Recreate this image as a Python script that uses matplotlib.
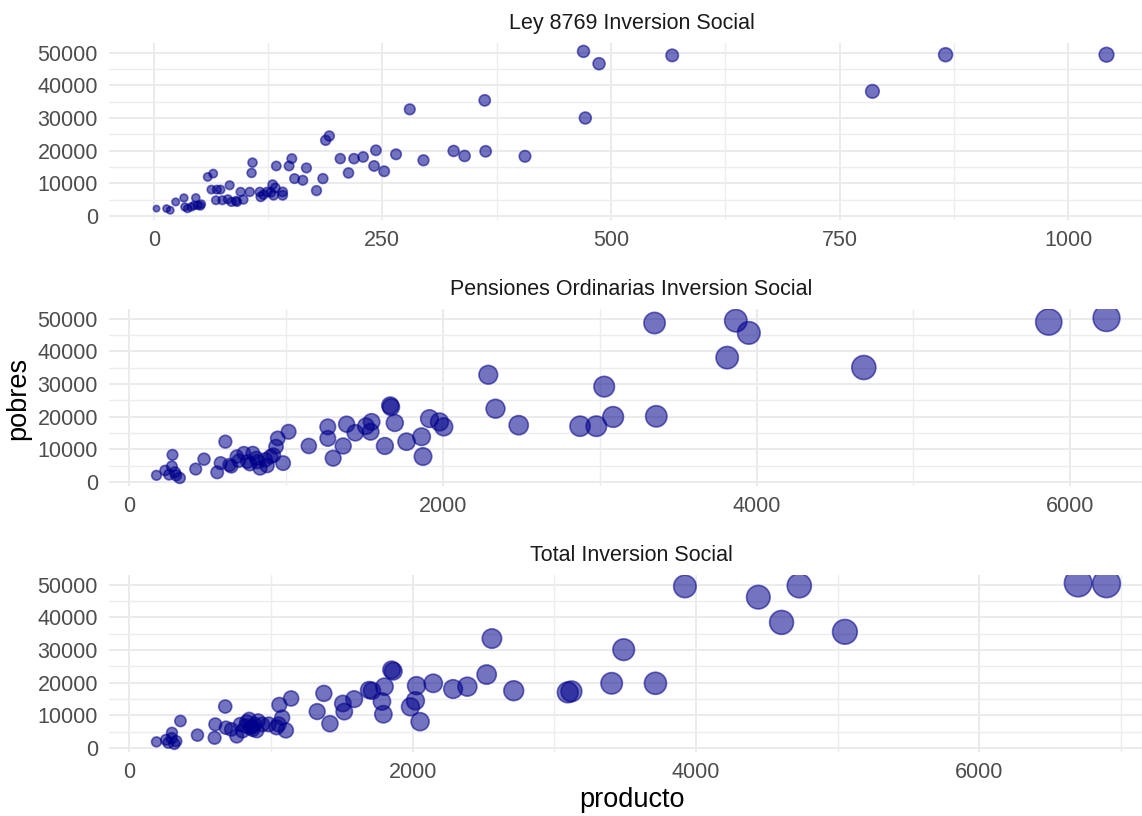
import numpy as np
import matplotlib
matplotlib.use('Agg')
import matplotlib.pyplot as plt

plt.rcParams['font.family'] = ['Liberation Sans', 'DejaVu Sans']

# Ley 8769 Inversion Social
ley_producto = [3, 14, 18, 24, 33, 34, 37, 41, 46, 48, 51, 59, 65, 63, 69, 73, 83, 68, 75, 81,
                85, 91, 95, 105, 108, 107, 116, 117, 124, 130, 131, 133, 141, 141, 134, 148, 151, 154, 163, 167,
                178, 185, 188, 192, 204, 213, 219, 229, 243, 241, 252, 265, 280, 295, 328, 340, 362, 363, 406, 470,
                487, 472, 567, 786, 866, 1042, 44, 52, 90, 98, 120, 128]
ley_pobres = [2245, 2245, 1735, 4286, 5510, 2755, 2245, 2755, 5510, 3265, 3061, 11940, 12960, 8061, 8061, 8061, 9388, 4796, 4796, 5102,
              4286, 4286, 7347, 7347, 16330, 13163, 7347, 5816, 7347, 9592, 6327, 8571, 7347, 6327, 15306, 15306, 17551, 11429, 10918, 14694,
              7755, 11429, 23163, 24490, 17551, 13163, 17551, 18061, 20102, 15306, 13673, 18878, 32653, 17041, 19898, 18367, 35408, 19796, 18265, 50408,
              46633, 30000, 49184, 38163, 49388, 49388, 3200, 3600, 4600, 5000, 6500, 7200]

# Pensiones Ordinarias Inversion Social
pen_producto = [175, 277, 273, 293, 323, 255, 425, 478, 562, 614, 584, 652, 687, 732, 755, 789, 812, 835, 869, 903,
                937, 948, 982, 1017, 1146, 1267, 1267, 1301, 1365, 1387, 1442, 1510, 1546, 1540, 1665, 1670, 1694, 1631, 1769, 1865,
                1874, 1915, 1979, 2006, 2290, 2336, 2484, 2875, 2979, 3029, 3086, 3350, 3361, 3868, 3951, 3813, 4684, 5863, 6231,
                640, 700, 770, 820, 880, 920, 230, 300]
pen_pobres = [2020, 8283, 4747, 2929, 1212, 2222, 3939, 6970, 2929, 12323, 5758, 4747, 7778, 8788, 6263, 8788, 7273, 4242, 6768, 7778,
              10808, 13333, 5758, 15354, 11010, 16869, 13333, 7273, 11010, 17677, 15051, 17071, 18384, 15354, 23434, 22929, 18081, 11010, 12323, 13838,
              7778, 19394, 18384, 16869, 32828, 22424, 17374, 17071, 17071, 29192, 19899, 48687, 20101, 49394, 45657, 38081, 35051, 48990, 50202,
              5200, 6500, 5500, 6200, 5000, 8200, 3500, 2000]

# Total Inversion Social
tot_producto = [193, 276, 302, 332, 319, 362, 482, 603, 608, 678, 683, 721, 759, 784, 822, 847, 872, 884, 910, 854,
                985, 1060, 1080, 1106, 1143, 1055, 1327, 1374, 1417, 1508, 1518, 1588, 1693, 1714, 1784, 1794, 1802, 1852, 1864, 1985,
                2020, 2028, 2053, 2146, 2286, 2387, 2523, 2560, 2714, 3095, 3121, 3405, 3490, 3714, 3922, 4440, 4729, 4604, 5051, 6697,
                6897, 800, 830, 870, 900, 940, 260, 300, 1040]
tot_pobres = [1856, 1546, 4639, 2062, 1237, 8247, 3918, 3093, 7216, 12680, 6186, 5670, 3608, 7216, 6701, 8763, 5670, 7216, 8247, 6186,
              7216, 13196, 9278, 5361, 15155, 7216, 11134, 16701, 7423, 13608, 11134, 14948, 17732, 17526, 14227, 10309, 18763, 23918, 23505, 12577,
              14433, 19072, 8041, 19794, 18041, 18763, 22474, 33505, 17526, 17010, 17320, 19794, 30103, 19794, 49485, 46186, 49691, 38454, 35567, 50515,
              50309, 5200, 8000, 6500, 5300, 7200, 2500, 3000, 6300]

titles = ['Ley 8769 Inversion Social', 'Pensiones Ordinarias Inversion Social', 'Total Inversion Social']
panels = [(ley_producto, ley_pobres), (pen_producto, pen_pobres), (tot_producto, tot_pobres)]
x_major = [[0, 250, 500, 750, 1000], [0, 2000, 4000, 6000], [0, 2000, 4000, 6000]]
x_minor = [[125, 375, 625, 875], [1000, 3000, 5000], [1000, 3000, 5000, 7000]]

W, H = 1142, 816
fig = plt.figure(figsize=(W / 100, H / 100), dpi=100)

# shared size scale (ggplot area palette) and shared y scale
all_x = np.concatenate([np.array(p[0], float) for p in panels])
all_y = np.concatenate([np.array(p[1], float) for p in panels])
gmin, gmax = all_x.min(), all_x.max()
yr = all_y.max() - all_y.min()
ylim = (all_y.min() - 0.05 * yr, all_y.max() + 0.05 * yr)

color = (0, 0, 0.545, 0.55)
tops = [43, 309, 575]
height = 177
left, right = 109, 1154

for i, ((xs, ys), title) in enumerate(zip(panels, titles)):
    top = tops[i]
    ax = fig.add_axes([left / W, 1 - (top + height) / H, (right - left) / W, height / H])
    xs = np.array(xs, float)
    ys = np.array(ys, float)
    d = 7.5 + 21.5 * np.sqrt((xs - gmin) / (gmax - gmin))  # diameter in px
    s = ((d - 1.2) * 0.72) ** 2
    ax.scatter(xs, ys, s=s, facecolor=color, edgecolor=color, linewidths=1.2, zorder=3)

    xr = xs.max() - xs.min()
    ax.set_xlim(xs.min() - 0.05 * xr, xs.max() + 0.05 * xr)
    ax.set_ylim(*ylim)
    ax.set_xticks(x_major[i])
    ax.set_xticks(x_minor[i], minor=True)
    ax.set_yticks(range(0, 50001, 10000))
    ax.set_yticks(range(5000, 50000, 10000), minor=True)
    ax.grid(which='major', color='#EBEBEB', lw=1.4, zorder=0)
    ax.grid(which='minor', color='#EDEDED', lw=1.0, zorder=0)
    for sp in ax.spines.values():
        sp.set_visible(False)
    ax.tick_params(which='both', length=0)
    ax.tick_params(axis='x', labelsize=15.5, labelcolor='#4D4D4D', pad=7)
    ax.tick_params(axis='y', labelsize=15.5, labelcolor='#4D4D4D', pad=8)
    ax.annotate(title, xy=(0.5, 1), xycoords='axes fraction', xytext=(0, 14),
                textcoords='offset points', ha='center', va='center',
                fontsize=15.5, color='#1A1A1A')

fig.text(18 / W, 1 - 398 / H, 'pobres', rotation=90, ha='center', va='center', fontsize=19.5)
fig.text(632 / W, 1 - 800 / H, 'producto', ha='center', va='center', fontsize=19.5)

fig.savefig('out.png', dpi=100, facecolor='white')
